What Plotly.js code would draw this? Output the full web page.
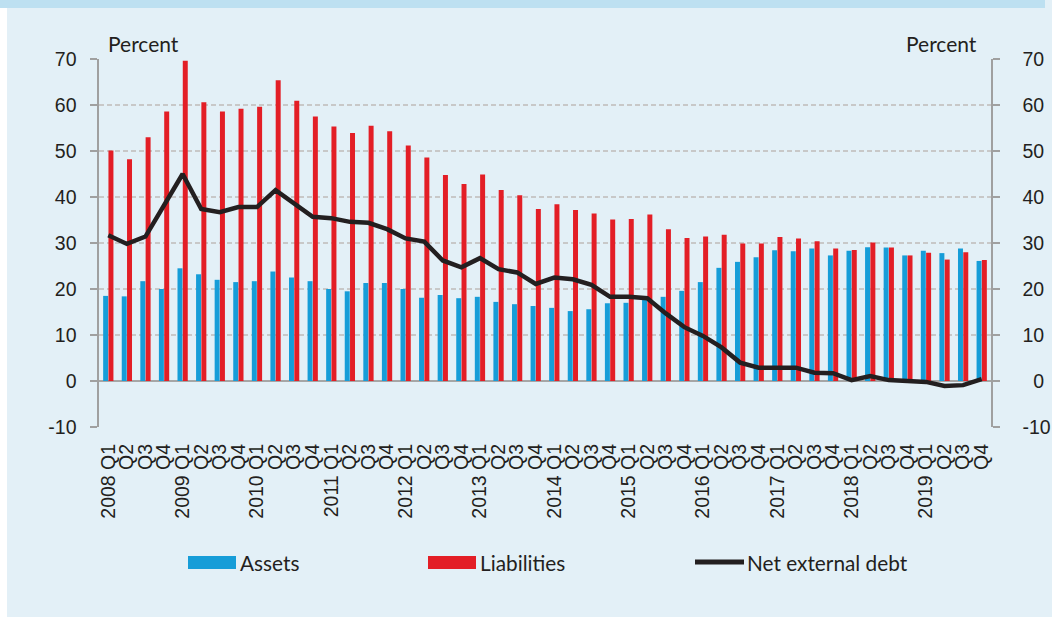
<!DOCTYPE html>
<html>
<head>
<meta charset="utf-8">
<script src="https://cdn.plot.ly/plotly-3.0.1.min.js"></script>
<style>
  html, body { margin: 0; padding: 0; background: #ffffff; }
  #bg { position: absolute; left: 7px; top: 0; width: 1045px; height: 617px; background: #e3f0f7; }
  #band { position: absolute; left: 0; top: 0; width: 1045px; height: 8px; background: #bde0f1; }
  #chart { position: absolute; left: 0; top: 0; width: 1052px; height: 617px; }
</style>
</head>
<body>
<div id="bg"></div>
<div id="band"></div>
<div id="chart"></div>
<script>
const categories = [
  "2008 Q1","2008 Q2","2008 Q3","2008 Q4",
  "2009 Q1","2009 Q2","2009 Q3","2009 Q4",
  "2010 Q1","2010 Q2","2010 Q3","2010 Q4",
  "2011 Q1","2011 Q2","2011 Q3","2011 Q4",
  "2012 Q1","2012 Q2","2012 Q3","2012 Q4",
  "2013 Q1","2013 Q2","2013 Q3","2013 Q4",
  "2014 Q1","2014 Q2","2014 Q3","2014 Q4",
  "2015 Q1","2015 Q2","2015 Q3","2015 Q4",
  "2016 Q1","2016 Q2","2016 Q3","2016 Q4",
  "2017 Q1","2017 Q2","2017 Q3","2017 Q4",
  "2018 Q1","2018 Q2","2018 Q3","2018 Q4",
  "2019 Q1","2019 Q2","2019 Q3","2019 Q4"
];
const tickLabels = [
  "2008 Q1","Q2","Q3","Q4",
  "2009 Q1","Q2","Q3","Q4",
  "2010 Q1","Q2","Q3","Q4",
  "2011 Q1","Q2","Q3","Q4",
  "2012 Q1","Q2","Q3","Q4",
  "2013 Q1","Q2","Q3","Q4",
  "2014 Q1","Q2","Q3","Q4",
  "2015 Q1","Q2","Q3","Q4",
  "2016 Q1","Q2","Q3","Q4",
  "2017 Q1","Q2","Q3","Q4",
  "2018 Q1","Q2","Q3","Q4",
  "2019 Q1","Q2","Q3","Q4"
];
const assets = [
  18.5,18.4,21.7,20.0, 24.5,23.2,22.0,21.5, 21.7,23.8,22.5,21.7,
  20.0,19.5,21.3,21.3, 20.0,18.1,18.7,18.0, 18.3,17.2,16.7,16.3,
  15.9,15.2,15.6,16.9, 17.0,17.6,18.3,19.6, 21.5,24.6,25.9,26.9,
  28.4,28.2,28.8,27.3, 28.3,29.1,29.0,27.3, 28.3,27.8,28.8,26.1
];
const liabilities = [
  50.1,48.2,53.0,58.6, 69.6,60.6,58.6,59.2, 59.6,65.4,60.9,57.5,
  55.3,53.9,55.5,54.3, 51.2,48.6,44.8,42.8, 44.9,41.5,40.4,37.4,
  38.4,37.2,36.4,35.1, 35.2,36.2,33.0,31.1, 31.4,31.8,29.9,29.9,
  31.3,31.0,30.4,28.8, 28.5,30.1,29.0,27.3, 27.9,26.4,28.0,26.3
];
const netExternalDebt = [
  31.7,29.8,31.4,38.3, 45.0,37.4,36.7,37.8, 37.8,41.5,38.5,35.7,
  35.4,34.6,34.4,33.0, 31.0,30.3,26.2,24.7, 26.7,24.3,23.6,21.1,
  22.5,22.1,20.9,18.3, 18.3,18.0,14.7,11.7, 9.8,7.3,4.0,2.9,
  2.9,2.9,1.8,1.7, 0.2,1.1,0.2,0.1, -0.2,-1.1,-0.9,0.4
];
const yTickVals = [-10,0,10,20,30,40,50,60,70];
const yTickTextLeft = ["-10","0","10","20","30","40","50","60","70"];
const yTickTextRight = ["-10","\u20070","10","20","30","40","50","60","70"];
const seriesNames = ["Assets","Liabilities","Net external debt"];
const unitLabel = "Percent";

const BLUE = "#169dd8", RED = "#e31e26", BLACK = "#231f20";
const tickFont = {family: "Liberation Sans, Arial, sans-serif", size: 19.5, color: "#231f20"};
const unitFont = {family: "Lato, Noto Sans, sans-serif", size: 21, color: "#231f20"};
const legendFont = {family: "Lato, Noto Sans, sans-serif", size: 20.8, color: "#231f20"};

const traces = [
  {type: "bar", name: seriesNames[0], x: categories, y: assets, marker: {color: BLUE}, showlegend: false, hoverinfo: "x+y"},
  {type: "bar", name: seriesNames[1], x: categories, y: liabilities, marker: {color: RED}, showlegend: false, hoverinfo: "x+y"},
  {type: "scatter", mode: "lines", name: seriesNames[2], x: categories, y: netExternalDebt, yaxis: "y2",
   line: {color: BLACK, width: 4.5, shape: "linear"}, showlegend: false}
];

// legend drawn from paper-space swatches
const L = 99, R = 991, T = 59, B = 427;
const px = v => (v - L) / (R - L);
const py = v => (B - v) / (B - T);
const legY = 562;
const shapes = [
  {type: "rect", xref: "paper", yref: "paper", x0: px(188), x1: px(236), y0: py(569), y1: py(556), fillcolor: BLUE, line: {width: 0}},
  {type: "rect", xref: "paper", yref: "paper", x0: px(428), x1: px(476), y0: py(569), y1: py(556), fillcolor: RED, line: {width: 0}},
  {type: "line", xref: "paper", yref: "paper", x0: px(695), x1: px(744), y0: py(legY), y1: py(legY), line: {color: BLACK, width: 5}}
];
const annotations = [
  {xref: "paper", yref: "paper", x: px(143), y: py(43), text: unitLabel, showarrow: false, font: unitFont, xanchor: "center", yanchor: "middle"},
  {xref: "paper", yref: "paper", x: px(941), y: py(43), text: unitLabel, showarrow: false, font: unitFont, xanchor: "center", yanchor: "middle"},
  {xref: "paper", yref: "paper", x: px(238), y: py(legY), text: seriesNames[0], showarrow: false, font: legendFont, xanchor: "left", yanchor: "middle"},
  {xref: "paper", yref: "paper", x: px(478), y: py(legY), text: seriesNames[1], showarrow: false, font: legendFont, xanchor: "left", yanchor: "middle"},
  {xref: "paper", yref: "paper", x: px(745), y: py(legY), text: seriesNames[2], showarrow: false, font: legendFont, xanchor: "left", yanchor: "middle"}
];

const layout = {
  width: 1052, height: 617,
  margin: {l: L, r: 1052 - R, t: T, b: 617 - B, pad: 0},
  paper_bgcolor: "rgba(0,0,0,0)",
  plot_bgcolor: "rgba(0,0,0,0)",
  barmode: "group",
  bargap: 0.43,
  bargroupgap: 0.06,
  showlegend: false,
  xaxis: {
    type: "category",
    tickvals: categories, ticktext: tickLabels,
    tickangle: -90,
    tickfont: tickFont,
    ticks: "", showgrid: false, showline: false, zeroline: false,
    ticklabelstandoff: 12
  },
  yaxis: {
    range: [-10, 70], tickvals: yTickVals, ticktext: yTickTextLeft,
    tickfont: tickFont,
    showgrid: true, gridcolor: "#c8c8c8", gridwidth: 1.3, griddash: "5px,3px",
    zeroline: true, zerolinecolor: "#a6a6a6", zerolinewidth: 1.6,
    showline: true, linecolor: "#a0a0a0", linewidth: 1.6,
    ticks: "outside", ticklen: 7, tickcolor: "#a0a0a0", tickwidth: 1.6,
    ticklabelstandoff: 10
  },
  yaxis2: {
    overlaying: "y", side: "right",
    range: [-10, 70], tickvals: yTickVals, ticktext: yTickTextRight,
    tickfont: tickFont,
    showgrid: false, zeroline: false,
    showline: true, linecolor: "#a0a0a0", linewidth: 1.6,
    ticks: "outside", ticklen: 7, tickcolor: "#a0a0a0", tickwidth: 1.6,
    ticklabelstandoff: 19
  },
  shapes: shapes,
  annotations: annotations
};

Plotly.newPlot("chart", traces, layout, {staticPlot: true, displayModeBar: false});
</script>
</body>
</html>
